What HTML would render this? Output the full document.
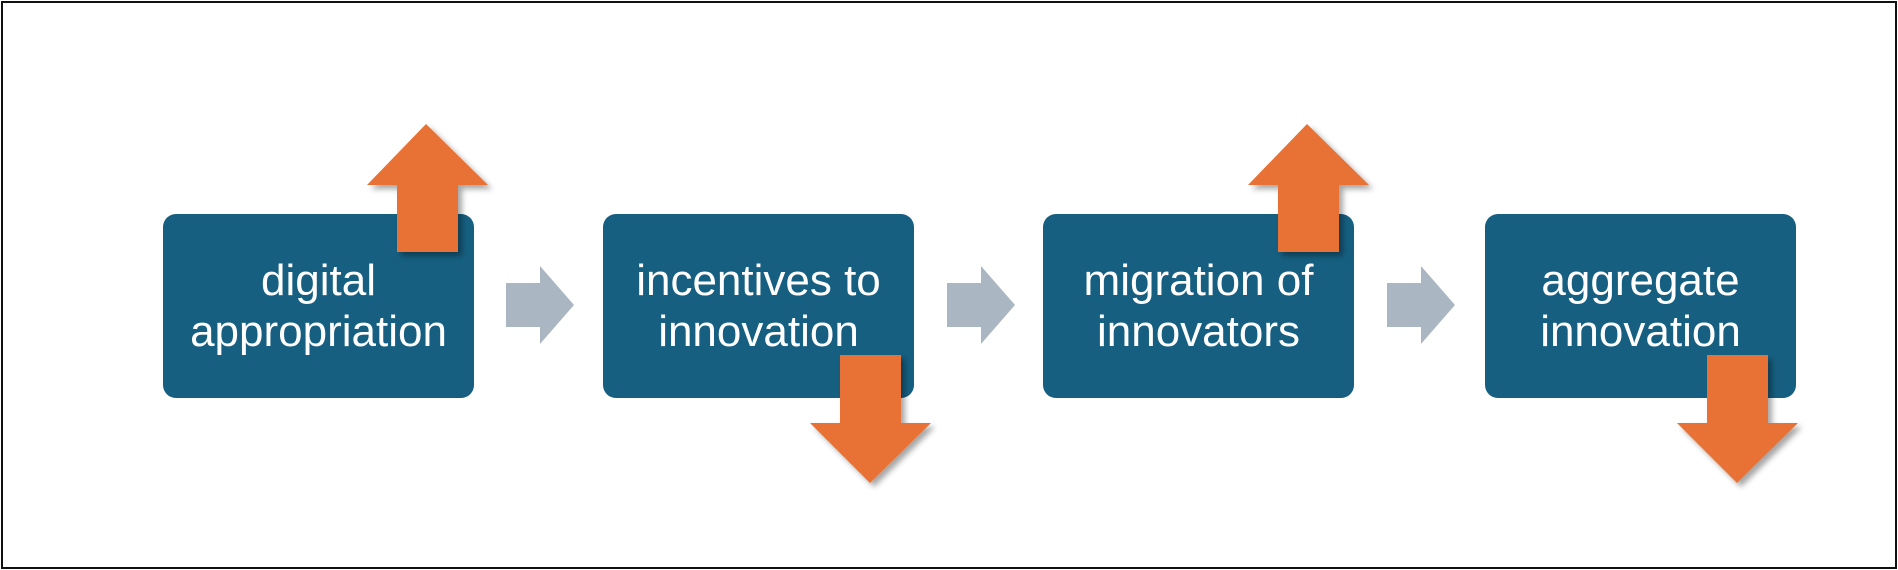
<!DOCTYPE html>
<html><head><style>
html,body{margin:0;padding:0;background:#fff;}
body{width:1898px;height:570px;position:relative;overflow:hidden;font-family:"Liberation Sans",sans-serif;}
.frame{position:absolute;left:1px;top:1px;width:1892px;height:564px;border:2px solid #111;}
.box{position:absolute;top:214px;width:311px;height:184px;background:#165f81;border-radius:13px;color:#fff;font-size:44px;line-height:51px;display:flex;align-items:center;justify-content:center;text-align:center;white-space:nowrap;}
svg{position:absolute;left:0;top:0;}
</style></head><body>
<div class="frame"></div>
<div class="box" style="left:163px">digital<br>appropriation</div>
<div class="box" style="left:603px">incentives to<br>innovation</div>
<div class="box" style="left:1043px">migration of<br>innovators</div>
<div class="box" style="left:1485px">aggregate<br>innovation</div>
<svg width="1898" height="570">
<defs><filter id="s" x="-20%" y="-20%" width="150%" height="150%"><feDropShadow dx="4" dy="4" stdDeviation="3" flood-color="#000" flood-opacity="0.35"/></filter></defs>
<g fill="#abb6c3">
<polygon points="506,283 540,283 540,266 574,305 540,344 540,327 506,327"/>
<polygon points="947,283 981,283 981,266 1015,305 981,344 981,327 947,327"/>
<polygon points="1387,283 1421,283 1421,266 1455,305 1421,344 1421,327 1387,327"/>
</g>
<g fill="#e87234" filter="url(#s)">
<polygon points="426,124 488,185 458,185 458,252 397,252 397,185 367,185"/>
<polygon points="1307,124 1369,185 1339,185 1339,252 1278,252 1278,185 1248,185"/>
<polygon points="840,355 901,355 901,423 931,423 870,483 810,423 840,423"/>
<polygon points="1707,355 1768,355 1768,423 1798,423 1737,483 1677,423 1707,423"/>
</g>
</svg>
</body></html>
